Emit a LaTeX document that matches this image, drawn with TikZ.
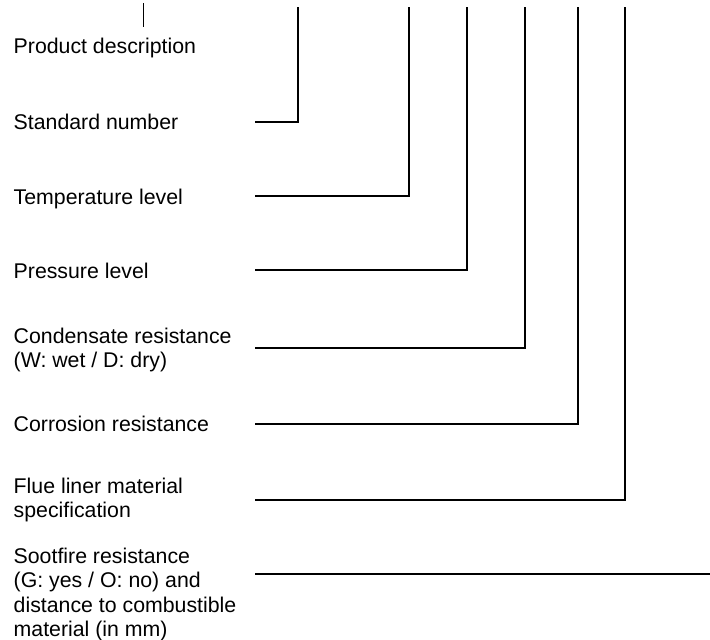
\documentclass[tikz,border=0pt]{standalone}
\usepackage{fontspec}
\setmainfont{Liberation Sans}
\begin{document}
\begin{tikzpicture}[x=1pt,y=-1pt,
  lbl/.style={anchor=base west,inner sep=0pt,font=\fontsize{21.3}{24.5}\selectfont},
  lead/.style={line width=2pt,line cap=rect},
  thinlead/.style={line width=1pt}]
\useasboundingbox (0,0) rectangle (710,640);
% labels
\node[lbl] (l0) at (13.5,53) {Product description};
\node[lbl] (l1) at (13.5,129) {Standard number};
\node[lbl] (l2) at (13.5,204) {Temperature level};
\node[lbl] (l3) at (13.5,278) {Pressure level};
\node[lbl] (l4) at (13.5,343.3) {\begin{tabular}[t]{@{}l@{}}Condensate resistance\\(W: wet / D: dry)\end{tabular}};
\node[lbl] (l5) at (13.5,431) {Corrosion resistance};
\node[lbl] (l6) at (13.5,493.3) {\begin{tabular}[t]{@{}l@{}}Flue liner material\\specification\end{tabular}};
\node[lbl] (l7) at (13.5,563.3) {\begin{tabular}[t]{@{}l@{}}Sootfire resistance\\(G: yes / O: no) and\\distance to combustible\\material (in mm)\end{tabular}};
% connector ends
\coordinate (p0) at (143.5,3);
\coordinate (q0) at (143.5,27);
\coordinate (s1) at (256,122);  \coordinate (t1) at (298,8);
\coordinate (s2) at (256,196);  \coordinate (t2) at (408.5,8);
\coordinate (s3) at (256,270);  \coordinate (t3) at (466.5,8);
\coordinate (s4) at (256,348);  \coordinate (t4) at (525,8);
\coordinate (s5) at (256,424);  \coordinate (t5) at (578,8);
\coordinate (s6) at (256,500);  \coordinate (t6) at (625,8);
\coordinate (s7) at (256,574);  \coordinate (t7) at (710,574);
% connectors
\draw[thinlead] (p0) -- (q0);
\draw[lead] (s1) -| (t1);
\draw[lead] (s2) -| (t2);
\draw[lead] (s3) -| (t3);
\draw[lead] (s4) -| (t4);
\draw[lead] (s5) -| (t5);
\draw[lead] (s6) -| (t6);
\draw[lead] (s7) -- (t7);
\end{tikzpicture}
\end{document}
